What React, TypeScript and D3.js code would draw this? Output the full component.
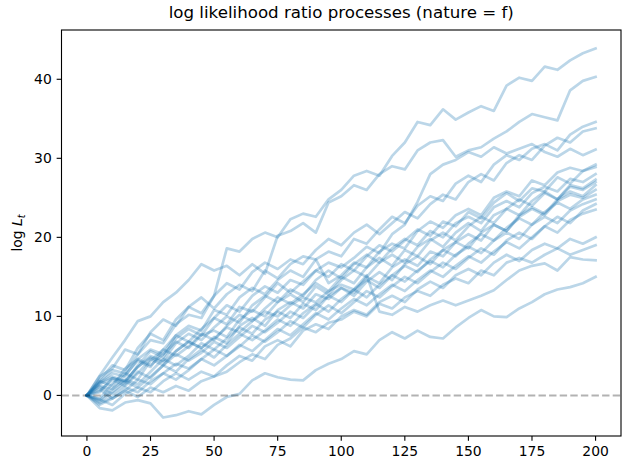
import React from 'react';
import * as d3 from 'd3';

// time index of each sampled value (every 5 steps)
const steps: number[] = d3.range(0, 201, 5);

const lineA = [0,1.8,3.2,2.8,5.2,7.0,6.6,9.0,10.2,9.8,12.6,18.6,18.2,19.8,20.6,20.0,22.3,23.0,22.6,24.8,26.0,27.8,28.4,27.8,30.3,32.0,34.6,34.2,36.2,34.9,35.8,36.6,36.0,39.2,40.2,39.8,41.6,41.2,42.4,43.3,43.9];
const lineB = [0,2.5,4.8,7.0,9.4,10.0,11.8,13.0,14.6,16.6,15.8,16.4,15.2,16.6,15.4,20.2,20.8,21.8,20.6,24.4,25.2,26.6,26.0,28.0,29.0,28.6,31.0,32.0,32.3,30.2,31.0,31.4,32.5,33.4,34.6,35.6,35.2,34.8,38.6,39.8,40.3];
const lineC = [0,1.6,2.8,2.4,4.6,5.8,5.2,7.6,8.8,8.2,10.8,10.2,12.4,13.6,12.8,14.6,15.8,15.0,17.2,18.2,17.6,19.8,19.2,21.0,22.6,21.8,24.0,25.2,24.6,26.8,27.8,27.0,29.2,30.4,29.8,31.2,31.8,31.0,33.0,34.0,34.6];
const lineE = [0,2.0,3.8,3.2,6.0,7.8,7.0,9.6,11.2,10.4,12.6,14.2,13.4,15.6,16.8,16.0,17.2,16.6,18.4,19.8,19.0,20.6,21.6,20.4,21.8,23.2,22.4,24.2,25.4,24.8,27.0,28.0,27.2,29.4,30.4,29.8,31.6,32.6,32.0,33.4,33.8];
const lineD = [0,0.4,2.2,1.6,3.8,5.6,4.8,7.2,8.4,7.6,9.8,11.4,10.6,12.6,13.8,13.0,14.6,14.0,15.8,16.8,16.2,17.4,18.8,18.0,20.4,21.6,24.5,28.0,29.2,29.8,30.8,30.2,31.4,30.6,31.2,31.8,30.8,30.2,31.2,30.4,31.1];
const lineF = [0,2.4,3.4,5.8,5.2,8.0,9.6,8.8,11.2,12.4,11.0,12.8,14.0,13.2,15.8,14.8,16.6,17.6,17.2,14.2,15.2,16.8,16.2,18.2,19.2,18.6,20.8,22.0,21.2,22.8,23.6,22.8,25.0,25.8,25.2,27.2,26.6,28.2,28.8,28.4,29.2];
const lineG = [0,1.2,0.8,2.6,4.4,3.6,5.8,7.6,6.8,8.4,9.8,9.0,11.2,10.6,12.4,14.2,13.0,14.4,15.8,15.0,16.6,15.8,17.6,19.0,18.2,19.6,21.0,20.2,22.0,21.4,23.2,22.4,24.4,25.6,24.6,26.2,25.8,27.6,26.8,28.4,28.9];
const lineH = [0,1.6,2.4,1.8,3.6,5.0,4.4,6.6,7.8,7.0,8.6,10.0,9.2,11.4,12.6,11.8,13.4,12.6,14.6,15.8,14.8,16.6,17.8,16.8,18.6,19.8,19.0,20.8,20.0,21.8,22.6,21.8,23.8,24.6,23.8,25.6,26.4,25.8,27.4,27.0,28.0];
const lineI = [0,-0.4,1.5,2.8,2.0,4.4,5.8,5.0,6.2,7.8,7.0,8.8,10.2,9.4,11.0,12.4,11.6,12.8,14.2,13.2,15.0,14.2,16.2,17.4,16.4,18.4,17.6,19.6,20.6,19.6,21.4,22.6,21.8,23.6,24.8,24.0,25.6,24.8,26.6,26.2,27.3];
const lineJ = [0,1.8,1.2,3.4,4.6,3.8,5.2,6.8,6.0,7.6,8.2,7.4,9.6,10.8,10.0,11.8,12.8,11.8,13.8,12.8,14.6,15.8,15.0,16.8,17.8,16.8,18.8,19.8,18.8,20.6,21.8,20.8,22.8,23.6,22.8,24.6,25.8,24.8,26.4,26.0,27.0];
const lineK = [0,0.6,2.0,1.2,2.8,4.6,3.8,5.6,6.8,6.0,7.4,6.6,8.8,9.8,8.8,10.8,11.8,11.0,12.8,12.2,13.6,13.0,15.0,14.2,16.2,17.2,16.4,18.2,17.6,19.4,20.4,19.6,21.6,20.8,22.8,23.8,23.0,24.8,25.8,25.2,26.6];
const lineL = [0,-0.6,0.8,2.0,1.4,3.0,4.6,3.8,5.0,6.6,5.8,7.2,8.6,7.8,9.6,10.6,9.8,11.6,10.8,12.6,13.6,12.6,14.4,15.6,14.6,16.6,17.6,16.6,18.4,19.4,18.6,20.6,21.6,20.8,22.6,23.6,22.8,24.6,25.4,25.0,26.0];
const lineM = [0,1.1,0.2,1.4,3.0,2.2,3.8,5.2,4.4,5.4,6.8,6.0,7.4,8.8,8.0,9.2,10.6,9.8,11.4,12.6,11.8,13.4,14.6,13.6,15.2,16.4,15.6,17.2,18.4,17.6,19.2,20.4,19.6,21.2,22.4,21.6,23.2,24.4,23.6,24.8,25.4];
const lineN = [0,-0.8,0.4,1.8,1.0,2.4,3.8,3.0,4.6,5.8,4.8,6.4,7.8,7.0,8.2,9.6,8.8,10.4,11.6,10.6,12.2,13.4,12.4,14.0,15.2,14.4,15.8,17.0,16.2,17.8,18.8,18.0,19.6,20.6,19.8,21.6,22.6,21.8,23.4,24.2,24.8];
const lineO = [0,0.8,-0.4,0.6,2.0,1.4,2.8,4.0,3.4,4.6,5.8,5.0,6.2,7.6,6.8,8.0,9.4,8.6,10.2,11.4,10.4,11.8,13.2,12.4,13.8,15.0,14.2,15.6,16.8,16.0,17.4,18.6,17.8,19.6,20.6,19.8,21.4,22.6,21.8,23.4,24.2];
const lineP = [0,-1.0,-0.2,1.0,0.4,1.8,2.8,2.0,3.2,4.6,3.8,5.0,6.4,5.6,7.0,8.4,7.6,9.0,10.4,9.6,11.0,12.2,11.4,12.8,14.0,13.2,14.6,15.8,15.0,16.4,17.6,16.8,18.2,19.4,18.6,20.0,21.4,20.6,22.2,23.0,23.5];
const lineR = [0,-0.5,-1.2,0.2,1.0,0.4,1.8,2.8,2.0,3.0,2.4,3.8,5.0,4.4,6.2,7.0,6.2,8.2,9.0,8.4,10.0,10.8,10.2,11.8,12.6,11.8,13.4,14.4,13.6,15.2,16.0,15.2,16.8,17.8,17.0,18.4,19.2,18.6,19.8,19.2,20.0];
const lineT = [0,-1.2,-0.4,0.6,-0.2,1.0,0.4,1.2,0.6,1.8,2.4,3.0,4.2,5.2,4.6,6.4,7.2,8.6,8.0,9.2,9.6,10.6,10.0,11.6,11.0,12.4,13.2,12.6,14.0,14.8,14.2,15.8,15.2,16.8,17.4,16.8,17.8,18.6,17.8,18.4,19.0];
const lineQ = [0,1.4,2.2,1.8,3.6,4.8,4.2,5.6,6.8,6.0,7.2,8.6,8.0,9.4,10.6,10.0,11.4,12.4,11.8,13.2,14.0,13.4,15.2,10.6,10.2,11.2,10.6,11.4,12.0,11.4,12.0,12.6,13.3,14.6,15.8,16.4,16.7,15.8,17.5,17.2,17.1];
const lineLow = [0,-1.6,-1.9,-0.9,-0.6,-1.0,-2.8,-2.5,-2.0,-2.4,-1.2,-0.2,0.2,1.9,2.8,2.3,2.0,1.9,3.2,4.0,4.6,5.6,5.2,7.0,8.0,7.2,8.2,7.4,7.2,8.6,9.8,10.8,10.0,9.9,11.0,11.8,12.8,13.4,13.7,14.2,15.0];

const series: number[][] = [lineA, lineB, lineC, lineE, lineD, lineF, lineG, lineH, lineI, lineJ, lineK, lineL, lineM, lineN, lineO, lineP, lineR, lineT, lineQ, lineLow];

const xTicks = [0, 25, 50, 75, 100, 125, 150, 175, 200];
const yTicks = [0, 10, 20, 30, 40];
const title = 'log likelihood ratio processes (nature = f)';

export default function App() {
  const W = 630, H = 470;
  const left = 61.5, right = 621, top = 30, bottom = 436;
  const font = 'DejaVu Sans, sans-serif';

  const [x0, x1] = d3.extent(steps) as [number, number];
  const xPad = (x1 - x0) * 0.05;
  const x = d3.scaleLinear().domain([x0 - xPad, x1 + xPad]).range([left, right]);

  const all = series.flat();
  const lo = d3.min(all) as number;
  const hi = d3.max(all) as number;
  const yPad = (hi - lo) * 0.05;
  const y = d3.scaleLinear().domain([lo - yPad, hi + yPad]).range([bottom, top]);

  const line = d3.line<number>().x((_, i) => x(steps[i])).y(d => y(d));
  const tickLen = 4.86;

  return (
    <svg width={W} height={H} style={{ position: 'absolute', left: 0, top: 0, background: '#fff' }} fontFamily={font}>
      <rect x={0} y={0} width={W} height={H} fill="#fff" />
      <g>
        {series.map((s, i) => (
          <path key={i} d={line(s) || ''} fill="none" stroke="#1f77b4" strokeOpacity={0.3}
            strokeWidth={2.7} strokeLinejoin="round" strokeLinecap="square" />
        ))}
      </g>
      <line x1={left} x2={right} y1={y(0)} y2={y(0)} stroke="#000" strokeOpacity={0.3}
        strokeWidth={2} strokeDasharray="7.4 3.2" />
      <rect x={left} y={top} width={right - left} height={bottom - top} fill="none" stroke="#000" strokeWidth={1.1} />
      {xTicks.map(t => (
        <g key={t}>
          <line x1={x(t)} x2={x(t)} y1={bottom} y2={bottom + tickLen} stroke="#000" strokeWidth={1.1} />
          <text x={x(t)} y={bottom + tickLen + 4.86 + 10.6} textAnchor="middle" fontSize={13.9}>{t}</text>
        </g>
      ))}
      {yTicks.map(t => (
        <g key={t}>
          <line x1={left - tickLen} x2={left} y1={y(t)} y2={y(t)} stroke="#000" strokeWidth={1.1} />
          <text x={left - tickLen - 4.86} y={y(t) + 5} textAnchor="end" fontSize={13.9}>{t}</text>
        </g>
      ))}
      <text transform={`translate(22,${(top + bottom) / 2}) rotate(-90)`} textAnchor="middle" fontSize={13.9}>
        <tspan>log </tspan>
        <tspan fontStyle="italic">L</tspan>
        <tspan fontStyle="italic" fontSize={9.7} dy={2.5}>t</tspan>
      </text>
      <text x={(left + right) / 2} y={18} textAnchor="middle" fontSize={16.67}>{title}</text>
    </svg>
  );
}
